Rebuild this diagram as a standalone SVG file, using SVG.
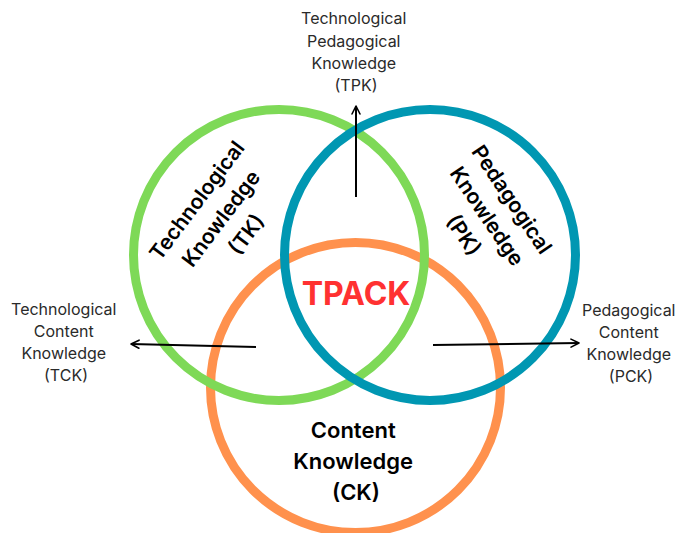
<svg xmlns="http://www.w3.org/2000/svg" width="678" height="533" viewBox="0 0 678 533">
  <style>
    .ring { fill: none; stroke-width: 9; }
    .side { font-family: Inter, "Liberation Sans", sans-serif; font-size: 16px; fill: #2a2a2a; text-anchor: middle; }
    .main { font-family: Inter, "Liberation Sans", sans-serif; font-weight: 600; fill: #000; text-anchor: middle; }
    .conn { stroke: #000; stroke-width: 2; fill: none; marker-end: url(#arrow); }
  </style>
  <defs>
    <marker id="arrow" viewBox="0 0 10 10" refX="9" refY="5" markerWidth="5" markerHeight="5" orient="auto" markerUnits="strokeWidth">
      <path d="M1,1 L9,5 L1,9" fill="none" stroke="#000" stroke-width="1.6" stroke-linecap="round" stroke-linejoin="round"/>
    </marker>
  </defs>
  <rect width="678" height="533" fill="#fff"/>

  <!-- knowledge circles -->
  <g id="ck">
    <circle class="ring" cx="355.5" cy="387.5" r="145" stroke="#FF914D"/>
  </g>
  <g id="tk">
    <circle class="ring" cx="279" cy="255" r="145.5" stroke="#7ED957"/>
  </g>
  <g id="pk">
    <circle class="ring" cx="430" cy="255" r="145.5" stroke="#0097B2"/>
  </g>

  <!-- connectors to the intersection labels -->
  <g id="connectors">
    <line class="conn" x1="356" y1="197" x2="356" y2="106"/>
    <line class="conn" x1="256" y1="347" x2="131" y2="344"/>
    <line class="conn" x1="433" y1="345" x2="579" y2="343"/>
  </g>

  <!-- circle labels -->
  <g id="tk-label" transform="translate(222,216) rotate(-53)">
    <text class="main" style="font-size:21px">
      <tspan x="0" y="-22">Technological</tspan>
      <tspan x="0" y="8">Knowledge</tspan>
      <tspan x="0" y="38">(TK)</tspan>
    </text>
  </g>
  <g id="pk-label" transform="translate(489,218) rotate(56)">
    <text class="main" style="font-size:21px">
      <tspan x="0" y="-22">Pedagogical</tspan>
      <tspan x="0" y="8">Knowledge</tspan>
      <tspan x="0" y="38">(PK)</tspan>
    </text>
  </g>
  <g id="ck-label">
    <text class="main" style="font-size:22px">
      <tspan x="356" y="438">Content</tspan>
      <tspan x="356" y="469">Knowledge</tspan>
      <tspan x="356" y="500">(CK)</tspan>
    </text>
  </g>
  <g id="tpack">
    <text class="main" x="356" y="305" style="font-size:32px; font-weight:700; fill:#FF3131">TPACK</text>
  </g>

  <!-- intersection labels -->
  <g id="tpk">
    <text class="side">
      <tspan x="356" y="24">Technological</tspan>
      <tspan x="356" y="47">Pedagogical</tspan>
      <tspan x="356" y="69">Knowledge</tspan>
      <tspan x="356" y="91">(TPK)</tspan>
    </text>
  </g>
  <g id="tck">
    <text class="side">
      <tspan x="66" y="315">Technological</tspan>
      <tspan x="66" y="337">Content</tspan>
      <tspan x="66" y="359">Knowledge</tspan>
      <tspan x="66" y="381">(TCK)</tspan>
    </text>
  </g>
  <g id="pck">
    <text class="side">
      <tspan x="631" y="316">Pedagogical</tspan>
      <tspan x="631" y="338">Content</tspan>
      <tspan x="631" y="360">Knowledge</tspan>
      <tspan x="631" y="382">(PCK)</tspan>
    </text>
  </g>
</svg>
